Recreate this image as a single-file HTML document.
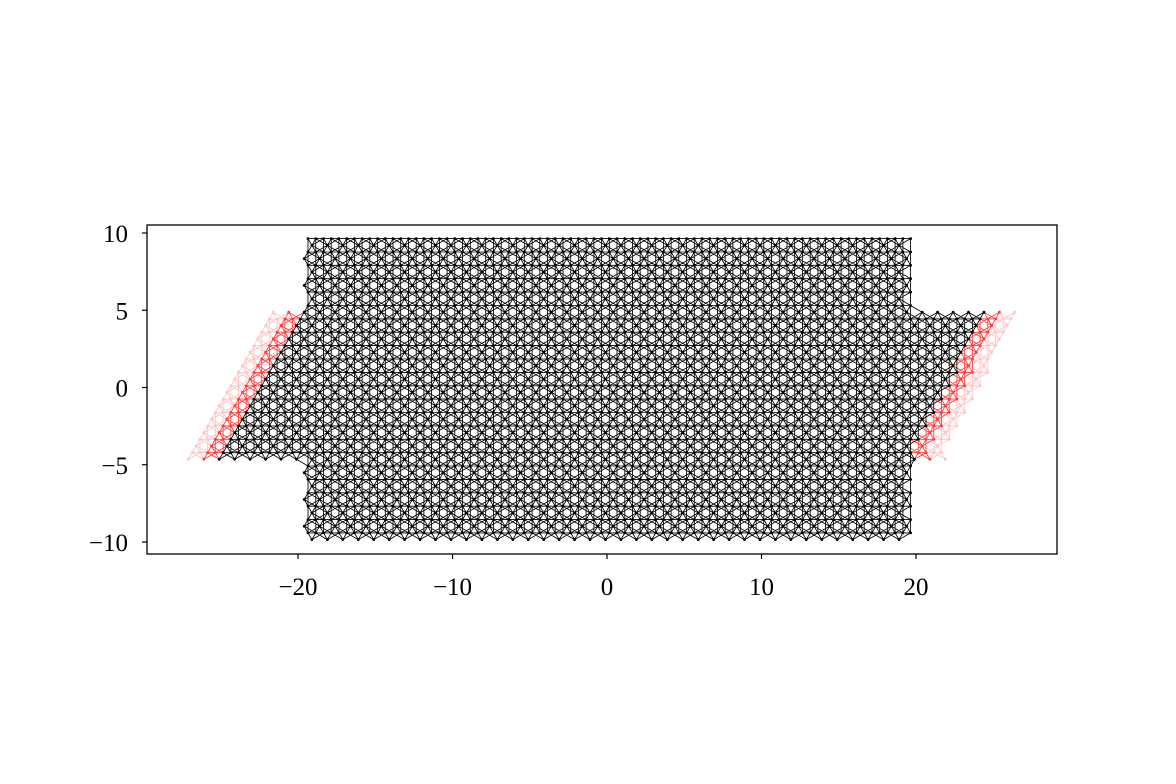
<!DOCTYPE html>
<html><head><meta charset="utf-8">
<style>
html,body{margin:0;padding:0;background:#fff;}
svg{display:block;font-family:"Liberation Serif",serif;}
</style></head>
<body>
<svg id="chart" width="1176" height="784" viewBox="0 0 1176 784" xmlns="http://www.w3.org/2000/svg">
<rect width="1176" height="784" fill="#fff"/>
<g id="plot"></g>
<rect x="147" y="225" width="910" height="329" fill="none" stroke="#000" stroke-width="1.3"/>
<g id="axes"></g>
</svg>
<script>
const xTicks = [-20, -10, 0, 10, 20];
const xTickLabels = ["\u221220", "\u221210", "0", "10", "20"];
const yTicks = [10, 5, 0, -5, -10];
const yTickLabels = ["10", "5", "0", "\u22125", "\u221210"];
// lattice region parameters (data units)
const bandY = [-4.7, 4.95];
const bandLeftX = [-25.1];
const bandRightX = [19.8];
const blockX = [-19.6, 19.7];
const blockY = [-9.9, 9.65];
const leadWidth = [1, 1];

const NS = "http://www.w3.org/2000/svg";
const px = x => 607 + 15.45 * x;
const py = y => 387.5 - 15.45 * y;

const axes = document.getElementById('axes');
xTicks.forEach((t, i) => {
  const l = document.createElementNS(NS, 'line');
  l.setAttribute('x1', px(t)); l.setAttribute('x2', px(t));
  l.setAttribute('y1', 554); l.setAttribute('y2', 559);
  l.setAttribute('stroke', '#000'); l.setAttribute('stroke-width', '1.2');
  
  
  axes.appendChild(l);
  const tx = document.createElementNS(NS, 'text');
  tx.setAttribute('x', px(t)); tx.setAttribute('y', 595);
  tx.setAttribute('text-anchor', 'middle'); tx.setAttribute('font-size', '25');
  tx.textContent = xTickLabels[i];
  
  
  axes.appendChild(tx);
});
yTicks.forEach((t, i) => {
  const l = document.createElementNS(NS, 'line');
  l.setAttribute('x1', 142); l.setAttribute('x2', 147);
  l.setAttribute('y1', py(t)); l.setAttribute('y2', py(t));
  l.setAttribute('stroke', '#000'); l.setAttribute('stroke-width', '1.2');
  
  
  axes.appendChild(l);
  const tx = document.createElementNS(NS, 'text');
  tx.setAttribute('x', 128); tx.setAttribute('y', py(t) + 9);
  tx.setAttribute('text-anchor', 'end'); tx.setAttribute('font-size', '25');
  tx.textContent = yTickLabels[i];
  
  
  axes.appendChild(tx);
});

// kagome lattice
const s3 = Math.sqrt(3) / 2;
const oy = -4.65 - 0.433;
const ox = -25.1 - 0.25;
const slopeL = 0.5 / s3;
const slopeR = 0.5;
function cls(x, y) {
  const inBand = y >= bandY[0] && y <= bandY[1];
  const xl = bandLeftX[0] + (y + 4.65) * slopeL;
  const xr = bandRightX[0] + (y + 4.65) * slopeR;
  const inBlock = x >= blockX[0] && x <= blockX[1] && y >= blockY[0] && y <= blockY[1];
  if (inBlock) return 0;
  if (inBand) {
    if (x >= xl - 0.1 && x <= xr + 0.1) return 0;
    if (x >= xl - 0.1 - leadWidth[0] && x < xl - 0.1) return 1;
    if (x >= xl - 0.1 - 2 * leadWidth[0] && x < xl - 0.1 - leadWidth[0]) return 2;
    if (x > xr + 0.1 && x <= xr + 0.1 + leadWidth[1]) return 1;
    if (x > xr + 0.1 + leadWidth[1] && x <= xr + 0.1 + 2 * leadWidth[1]) return 2;
  }
  return -1;
}
const sites = [];
const basis = [[0, 0], [0.5, 0], [0.25, 0.433]];
for (let m = -8; m <= 18; m++) {
  for (let i = -50; i <= 50; i++) {
    for (const b of basis) {
      const x = ox + i + 0.5 * m + b[0];
      const y = oy + s3 * m + b[1];
      const c = cls(x, y);
      if (c >= 0) sites.push([x, y, c]);
    }
  }
}
const grid = new Map();
sites.forEach((s, k) => {
  const key = Math.floor(s[0]) + ',' + Math.floor(s[1]);
  if (!grid.has(key)) grid.set(key, []);
  grid.get(key).push(k);
});
const paths = ['', '', ''];
sites.forEach((s, k) => {
  const gx = Math.floor(s[0]), gy = Math.floor(s[1]);
  for (let dx = -1; dx <= 1; dx++) for (let dy = -1; dy <= 1; dy++) {
    const arr = grid.get((gx + dx) + ',' + (gy + dy));
    if (!arr) continue;
    for (const j of arr) {
      if (j <= k) continue;
      const t = sites[j];
      const d = Math.hypot(t[0] - s[0], t[1] - s[1]);
      if (Math.abs(d - 0.5) < 0.02 || Math.abs(d - s3) < 0.02) {
        const c = Math.max(s[2], t[2]);
        paths[c] += 'M' + px(s[0]).toFixed(1) + ' ' + py(s[1]).toFixed(1) + 'L' + px(t[0]).toFixed(1) + ' ' + py(t[1]).toFixed(1);
      }
    }
  }
});
const plot = document.getElementById('plot');
const colors = ['#000', '#ff3a3a', '#ffc4c4'];
const names = ['lattice-bonds-sample', 'lattice-bonds-lead', 'lattice-bonds-lead-copy'];
[2, 1, 0].forEach(c => {
  const p = document.createElementNS(NS, 'path');
  p.setAttribute('d', paths[c]);
  p.setAttribute('stroke', colors[c]);
  p.setAttribute('stroke-width', '0.85');
  p.setAttribute('fill', 'none');
  
  
  plot.appendChild(p);
});
const dots = ['', '', ''];
sites.forEach(s => {
  const x = px(s[0]), y = py(s[1]);
  dots[s[2]] += 'M' + (x - 1.4).toFixed(1) + ' ' + y.toFixed(1) + 'a1.4 1.4 0 1 0 2.8 0a1.4 1.4 0 1 0 -2.8 0';
});
const dnames = ['lattice-sites-sample', 'lattice-sites-lead', 'lattice-sites-lead-copy'];
[2, 1, 0].forEach(c => {
  const p = document.createElementNS(NS, 'path');
  p.setAttribute('d', dots[c]);
  p.setAttribute('fill', colors[c]);
  
  
  plot.appendChild(p);
});
</script>
</body></html>
